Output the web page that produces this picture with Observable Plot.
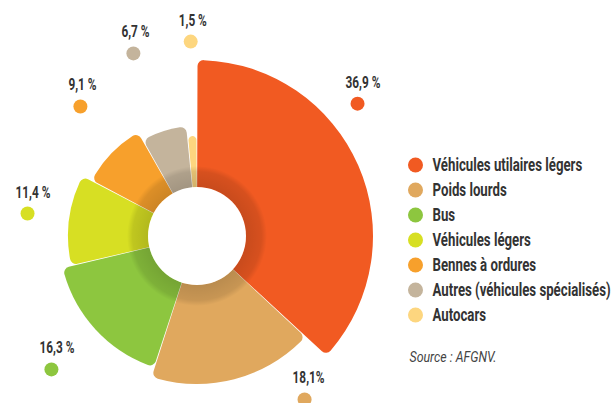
<!DOCTYPE html>
<html><head><meta charset="utf-8">
<script src="https://cdn.jsdelivr.net/npm/d3@7"></script>
<script src="https://cdn.jsdelivr.net/npm/@observablehq/plot@0.6"></script>
<style>
body{margin:0;background:#fff;}
#chart svg{display:block;}
</style></head><body><div id="chart"></div>
<script>
// ---- data ----
const categories = ["Véhicules utilaires légers","Poids lourds","Bus","Véhicules légers","Bennes à ordures","Autres (véhicules spécialisés)","Autocars"];
const shares = [36.9, 18.1, 16.3, 11.4, 9.1, 6.7, 1.5];
const shareLabels = ["36,9 %","18,1%","16,3 %","11,4 %","9,1 %","6,7 %","1,5 %"];
const colors = ["#f15a22","#e0a85e","#8dc63f","#d7df23","#f7a02c","#c4b49c","#fdd67f"];
const sourceText = "Source : AFGNV.";

// ---- layout ----
const W = 611, H = 403, CX = 197, CY = 236;
const innerR = 49, bandR = 70;
const outerR = [176, 148, 138, 129, 119, 110, 100];
const labelPolar = [[50.3,208],[146.7,195],[227.7,197.5],[277.7,171.5],[318,175],[340.7,194],[358,195]];
const FONT = "Roboto,'Liberation Sans',sans-serif";
const SQUEEZE = {"16": 0.74, "18": 0.735, "15.5": 0.8};

const total = d3.sum(shares);
let acc = 0;
const slices = categories.map((c, i) => {
  const a0 = acc / total * 2 * Math.PI; acc += shares[i];
  const a1 = acc / total * 2 * Math.PI;
  const [deg, r] = labelPolar[i];
  const t = deg * Math.PI / 180;
  return {category: c, share: shares[i], label: shareLabels[i], color: colors[i], a0, a1, outer: outerR[i],
          lx: r * Math.sin(t), ly: r * Math.cos(t)};
});
const legend = categories.map((c, i) => ({category: c, color: colors[i], x: 415 - CX, y: CY - (164.5 + 25 * i)}));

function donut(index, scales) {
  const g = d3.create("svg:g");
  const cx = scales.x(0), cy = scales.y(0);
  const k = scales.x(1) - scales.x(0);
  const defs = g.append("defs");
  const grad = defs.append("radialGradient").attr("id", "band").attr("gradientUnits", "userSpaceOnUse")
    .attr("cx", 0).attr("cy", 0).attr("r", bandR * k);
  grad.append("stop").attr("offset", innerR / bandR).attr("stop-color", "#000").attr("stop-opacity", 0.17);
  grad.append("stop").attr("offset", 0.92).attr("stop-color", "#000").attr("stop-opacity", 0.11);
  grad.append("stop").attr("offset", 1).attr("stop-color", "#000").attr("stop-opacity", 0);
  const arc = d3.arc().cornerRadius(6).padAngle(0.007).padRadius(150);
  const gg = g.append("g").attr("transform", `translate(${cx},${cy})`);
  gg.selectAll("path.s").data(slices).join("path")
    .attr("fill", d => d.color)
    .attr("d", d => arc({innerRadius: 0, outerRadius: d.outer * k, startAngle: d.a0, endAngle: d.a1}));
  gg.append("path").attr("fill", "url(#band)")
    .attr("d", d3.arc()({innerRadius: innerR * k, outerRadius: bandR * k, startAngle: 0, endAngle: 2 * Math.PI}));
  gg.append("circle").attr("r", innerR * k).attr("fill", "#fff");
  return g.node();
}

const chart = Plot.plot({
  width: W, height: H, margin: 0,
  x: {domain: [-CX, W - CX], axis: null},
  y: {domain: [-(H - CY), CY], axis: null},
  style: {fontFamily: FONT, background: "#fff"},
  marks: [
    donut,
    Plot.dot(slices, {x: "lx", y: "ly", r: 7, fill: "color"}),
    Plot.text(slices, {x: "lx", y: "ly", text: "label", textAnchor: "start", lineAnchor: "bottom", dx: -12, dy: -16,
      fontSize: 16, fontWeight: "bold", fill: "#333"}),
    Plot.dot(legend, {x: "x", y: "y", r: 7.5, fill: "color"}),
    Plot.text(legend, {x: "x", y: "y", text: "category", textAnchor: "start", lineAnchor: "bottom", dx: 17, dy: 5.5,
      fontSize: 18, fontWeight: "bold", fill: "#333"}),
    Plot.text([sourceText], {x: 409 - CX, y: CY - 361, text: d => d, textAnchor: "start", lineAnchor: "bottom",
      fontSize: 15.5, fontStyle: "italic", fill: "#444"})
  ]
});
// condensed look: horizontally squeeze each text around its anchor
chart.querySelectorAll("text").forEach(t => {
  const fs = t.closest("[font-size]")?.getAttribute("font-size");
  const s = SQUEEZE[String(parseFloat(fs))] ?? 0.76;
  const x = t.getAttribute("x"), y = t.getAttribute("y");
  let tr = t.getAttribute("transform") || "";
  if (x != null || y != null) {
    tr = `translate(${+x || 0},${+y || 0}) ` + tr;
    t.removeAttribute("x"); t.removeAttribute("y");
  }
  t.setAttribute("transform", tr + ` scale(${s},1)`);
});
document.getElementById("chart").append(chart);
</script></body></html>
